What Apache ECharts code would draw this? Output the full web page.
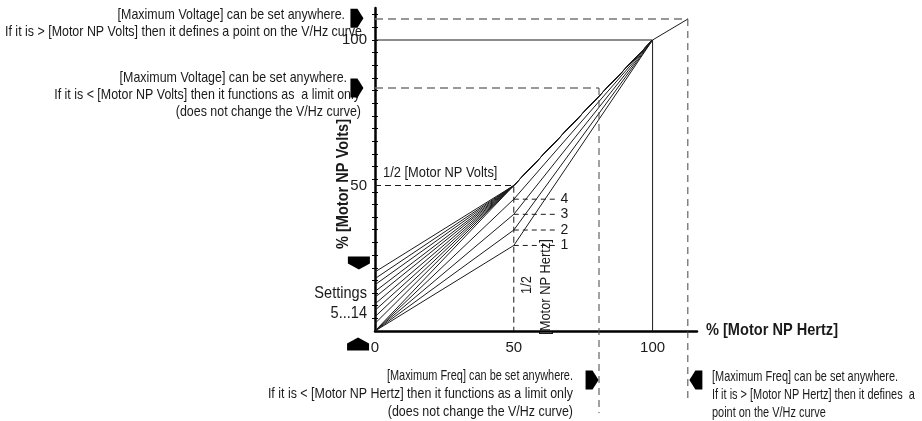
<!DOCTYPE html>
<html>
<head>
<meta charset="utf-8">
<script src="https://cdn.jsdelivr.net/npm/echarts@6/dist/echarts.min.js"></script>
<style>
  html, body { margin: 0; padding: 0; background: #fff; }
  #chart { width: 922px; height: 421px; }
</style>
</head>
<body>
<div id="chart"></div>
<script>
// settings 5..14 : start voltage at 0 Hz (% of motor NP volts)
const boostStart = [0, 2.6, 4.9, 7.1, 9.3, 11.6, 13.6, 15.9, 18, 20.3];
// settings 1..4 : voltage reached at 1/2 motor NP hertz
const halfVolts = [29.4, 34.7, 40.1, 45.3];
const halfLabels = ['1', '2', '3', '4'];
const halfPoint = [50, 50];
const nominal = [100, 100];
// [Maximum Freq, Maximum Voltage] examples
const maxHigh = [112.7, 107.2];
const maxLow = [80.7, 83.5];
const dashBottom = [-24.7, -28.2];
const xTickLabels = [0, 50, 100];
const yTickLabels = [50, 100];
const yTicks = [4.3, 8.7, 13, 17.4, 21.7, 26.1, 30.4, 34.8, 39.1, 43.5, 47.8, 52.2, 56.5,
  60.9, 65.2, 69.6, 73.9, 78.3, 82.6, 87, 91.3, 95.7, 100, 104.3, 108.7];
// arrow markers: [x, y, rotate]
const arrows = [[-6.5, 107.5, 0], [-6.5, 83.5, 0], [-5.8, 23.4, -90], [-6.1, -4.5, 90],
  [78.2, -16.8, 0], [115.6, -16.8, 180]];
const settingsMarks = [20, 0];

const FONT = "'Liberation Sans',Arial,sans-serif";
const INK = '#1a1a1a';
const ARROW = 'path://M0,0H7L13,9L7,18H0Z';

// the original uses a condensed face; squeeze Liberation Sans to a similar width
const LONG_LINE = 'If it is > [Motor NP Volts] then it defines a point on the V/Hz curve';
const mctx = document.createElement('canvas').getContext('2d');
mctx.font = '14.5px ' + FONT;
const SQ = 357 / mctx.measureText(LONG_LINE).width;
const SQ2 = SQ * 0.88;  // the Maximum Freq notes are set a bit tighter

const chart = echarts.init(document.getElementById('chart'));

function seg(pts, color, width, type) {
  return {
    type: 'line', data: pts, symbol: 'none', clip: false, silent: true,
    lineStyle: { color: color, width: width, type: type || 'solid' }
  };
}

const series = [];
// boost curves (settings 5..14)
boostStart.forEach(b => series.push(seg([[0, b], halfPoint, nominal], INK, 1)));
// fan curves (settings 1..4)
halfVolts.forEach((v, i) => {
  series.push(seg([[0, 0], [50, v], nominal], INK, 1));
  const s = seg([[50, v], [65, v]], INK, 1, [5, 4]);
  s.endLabel = { show: true, formatter: halfLabels[i], distance: 5,
    fontFamily: FONT, fontSize: 14, color: INK };
  series.push(s);
});
// nominal box
series.push(seg([[0, 100], nominal, [100, 0]], INK, 1));
series.push(seg([nominal, maxHigh], INK, 1));
// 1/2 point guides
series.push(seg([[0, 50], halfPoint, [50, 0]], INK, 1, [6, 4]));
// max voltage / max freq guides
series.push(seg([[0, maxHigh[1]], maxHigh], '#777', 1.5, [8, 5]));
series.push(seg([maxHigh, [maxHigh[0], dashBottom[0]]], '#444', 1, [7, 5]));
series.push(seg([[0, maxLow[1]], maxLow], '#777', 1.5, [8, 5]));
series.push(seg([maxLow, [maxLow[0], dashBottom[1]]], '#444', 1, [7, 5]));
// settings range dashes
settingsMarks.forEach(y => series.push(seg([[-9, y], [-3.4, y]], '#555', 1, [4, 3])));
// arrows
series.push({
  type: 'scatter', clip: false, silent: true,
  data: arrows.map(a => ({
    value: [a[0], a[1]], symbolRotate: a[2],
    symbolSize: (a[2] === 90 || a[2] === -90) ? [13, 22] : [13, 19]
  })),
  symbol: ARROW, itemStyle: { color: '#000', opacity: 1 }
});

const txt = (x, y, t, align, size, extra, weight) => Object.assign({
  type: 'text', x: x, y: y, silent: true, scaleX: SQ,
  style: { text: t, fill: INK, font: (weight || '') + ' ' + (size || 14.5) + 'px ' + FONT,
    align: align, verticalAlign: 'middle' }
}, extra || {});

chart.setOption({
  animation: false,
  grid: { left: 375, right: 225, top: 8, bottom: 90 },
  xAxis: {
    type: 'value', min: 0, max: 116,
    axisLine: { onZero: false, lineStyle: { color: '#000', width: 2.5 } },
    axisTick: { show: false },
    splitLine: { show: false },
    axisLabel: { customValues: xTickLabels, margin: 9, fontFamily: FONT, fontSize: 15, color: INK }
  },
  yAxis: [{
    type: 'value', min: 0, max: 111,
    axisLine: { show: true, lineStyle: { color: '#000', width: 2.5 } },
    axisTick: { show: true, customValues: yTicks, length: 3, lineStyle: { color: '#000', width: 1 } },
    splitLine: { show: false },
    axisLabel: { customValues: yTickLabels, margin: 8, fontFamily: FONT, fontSize: 15, color: INK }
  }, {
    type: 'value', min: 0, max: 111, position: 'left',
    axisLine: { show: false },
    axisTick: { show: true, inside: true, customValues: yTicks, length: 3, lineStyle: { color: '#000', width: 1 } },
    splitLine: { show: false },
    axisLabel: { show: false }
  }],
  series: series,
  graphic: [
    txt(345, 15, '[Maximum Voltage] can be set anywhere.', 'right'),
    txt(362, 32, LONG_LINE, 'right'),
    txt(347, 78, '[Maximum Voltage] can be set anywhere.', 'right'),
    txt(360, 95, 'If it is < [Motor NP Volts] then it functions as  a limit only', 'right'),
    txt(361, 112, '(does not change the V/Hz curve)', 'right'),
    txt(573, 376, '[Maximum Freq] can be set anywhere.', 'right', 14.5, { scaleX: SQ2 }),
    txt(573, 394, 'If it is < [Motor NP Hertz] then it functions as a limit only', 'right'),
    txt(573, 412, '(does not change the V/Hz curve)', 'right'),
    txt(712, 377, '[Maximum Freq] can be set anywhere.', 'left', 14.5, { scaleX: SQ2 }),
    txt(712, 395, 'If it is > [Motor NP Hertz] then it defines  a', 'left', 14.5, { scaleX: SQ2 }),
    txt(712, 413, 'point on the V/Hz curve', 'left', 14.5, { scaleX: SQ2 }),
    txt(367, 293, 'Settings', 'right', 17),
    txt(367, 313, '5...14', 'right', 17),
    txt(383, 173, '1/2 [Motor NP Volts]', 'left', 15),
    txt(527, 285, '1/2', 'center', 15, { rotation: Math.PI / 2 }),
    txt(546, 287, '[Motor NP Hertz]', 'center', 15, { rotation: Math.PI / 2 }),
    txt(706, 330, '% [Motor NP Hertz]', 'left', 17, null, 'bold'),
    txt(343, 184, '% [Motor NP Volts]', 'center', 17, { rotation: Math.PI / 2 }, 'bold')
  ]
});
</script>
</body>
</html>
